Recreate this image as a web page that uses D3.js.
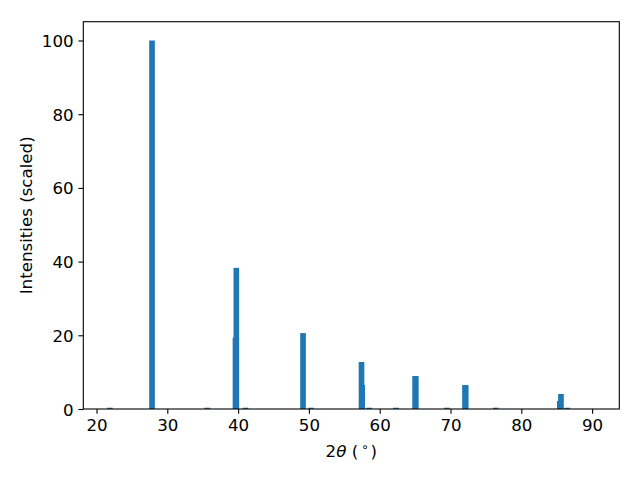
<!DOCTYPE html>
<html>
<head>
<meta charset="utf-8">
<script src="https://cdn.jsdelivr.net/npm/d3@7"></script>
<style>
  html, body { margin: 0; padding: 0; background: #fff; }
  svg { display: block; }
  text { font-family: "DejaVu Sans", sans-serif; fill: #000; }
</style>
</head>
<body>
<script>
// Peak positions (2θ, degrees) and scaled intensities, in draw order
const twoTheta  = [21.9, 27.84, 35.65, 39.63, 39.75, 41.05, 49.17, 50.3, 57.43, 57.53, 58.5, 62.3, 65.0, 65.1, 69.5, 72.05, 72.15, 76.4, 85.44, 85.6, 86.5];
const intensity = [0.35, 100.0, 0.35, 19.35, 38.3, 0.35, 20.6, 0.35, 12.75, 6.5, 0.35, 0.35, 8.95, 8.9, 0.35, 6.5, 6.45, 0.35, 2.17, 4.07, 0.35];
const xTicks = [20, 30, 40, 50, 60, 70, 80, 90];
const yTicks = [0, 20, 40, 60, 80, 100];
const yLabelText = "Intensities (scaled)";

const W = 640, H = 480;
const plot = { left: 83.3, right: 619.3, top: 21.7, bottom: 409 };
const barWidth = 0.8;
const fontPx = 16.67;

const svg = d3.select("body").append("svg").attr("width", W).attr("height", H);
svg.append("rect").attr("width", W).attr("height", H).attr("fill", "#fff");

const x = d3.scaleLinear().domain([18.136, 93.84]).range([plot.left, plot.right]);
const y = d3.scaleLinear().domain([0, 105.1]).range([plot.bottom, plot.top]);

const data = twoTheta.map((t, i) => ({ t, v: intensity[i] }));

svg.append("g").selectAll("rect").data(data).join("rect")
  .attr("x", d => x(d.t - barWidth / 2))
  .attr("width", d => x(d.t + barWidth / 2) - x(d.t - barWidth / 2))
  .attr("y", d => y(d.v))
  .attr("height", d => y(0) - y(d.v))
  .attr("fill", "#1f77b4");

const xAxis = d3.axisBottom(x).tickValues(xTicks).tickSize(4.86).tickPadding(4.86).tickFormat(d3.format("d"));
const yAxis = d3.axisLeft(y).tickValues(yTicks).tickSize(4.86).tickPadding(4.86).tickFormat(d3.format("d"));

const gx = svg.append("g").attr("transform", `translate(0,${plot.bottom})`).call(xAxis);
const gy = svg.append("g").attr("transform", `translate(${plot.left},0)`).call(yAxis);
[gx, gy].forEach(g => {
  g.select(".domain").remove();
  g.selectAll(".tick line").attr("stroke", "#000").attr("stroke-width", 1.1);
  g.selectAll(".tick text").attr("font-size", fontPx).attr("font-family", "DejaVu Sans").attr("fill", "#000");
});
gx.selectAll(".tick text").attr("dy", "0.76em");
gy.selectAll(".tick text").attr("dy", "0.36em");

// frame
svg.append("rect")
  .attr("x", plot.left).attr("y", plot.top)
  .attr("width", plot.right - plot.left).attr("height", plot.bottom - plot.top)
  .attr("fill", "none").attr("stroke", "#000").attr("stroke-width", 1.1);

// x label with math-like styling
const xl = svg.append("text")
  .attr("x", (plot.left + plot.right) / 2).attr("y", 457)
  .attr("text-anchor", "middle").attr("font-size", fontPx);
xl.append("tspan").text("2");
xl.append("tspan").attr("font-style", "italic").text("θ");
xl.append("tspan").text(" (");
xl.append("tspan").attr("font-size", fontPx * 0.7).attr("dx", 3).attr("dy", -6).text("∘");
xl.append("tspan").attr("dx", 2).attr("dy", 6).text(")");

svg.append("text")
  .attr("transform", `translate(31.5,${(plot.top + plot.bottom) / 2}) rotate(-90)`)
  .attr("text-anchor", "middle").attr("font-size", fontPx)
  .text(yLabelText);
</script>
</body>
</html>
